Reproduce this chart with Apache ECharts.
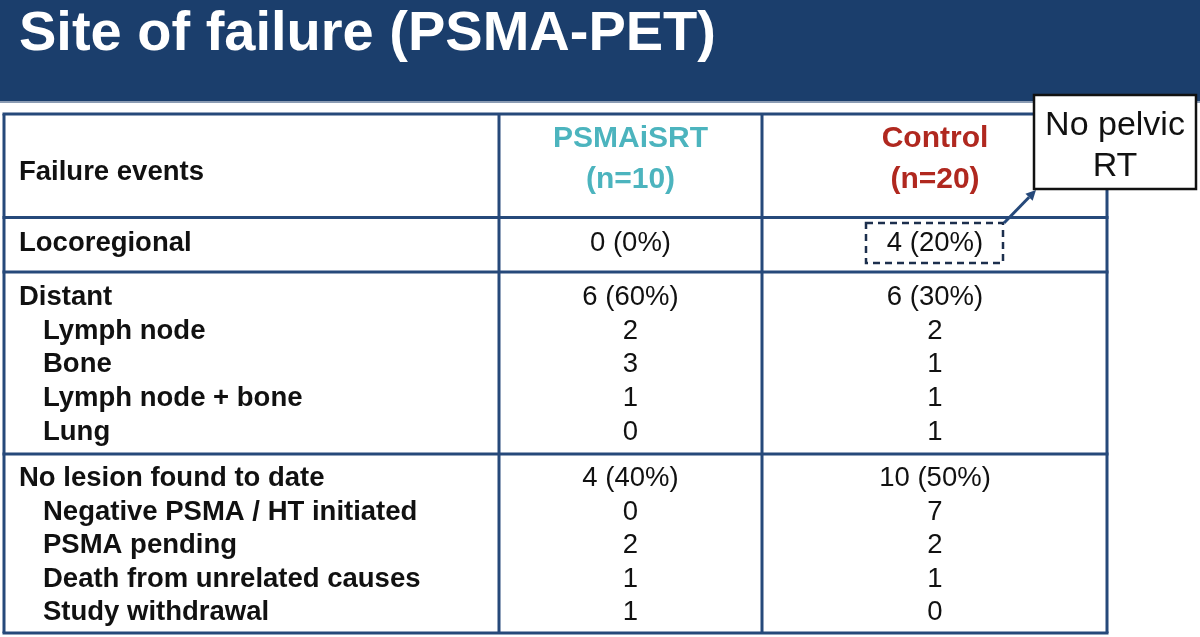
<!DOCTYPE html>
<html>
<head>
<meta charset="utf-8">
<script src="https://cdn.jsdelivr.net/npm/echarts@6/dist/echarts.min.js"></script>
<style>
  html, body { margin: 0; padding: 0; background: #fff; }
  #chart { width: 1200px; height: 637px; }
</style>
</head>
<body>
<div id="chart"></div>
<script>
// table content
const titleText = 'Site of failure (PSMA-PET)'
const firstColHeader = 'Failure events'
const armNames = ['PSMAiSRT', 'Control']
const armSizes = [10, 20]
const armColors = ['#4cb4be', '#b0281f']
const rowLabels = [
  'Locoregional',
  'Distant',
  'Lymph node',
  'Bone',
  'Lymph node + bone',
  'Lung',
  'No lesion found to date',
  'Negative PSMA / HT initiated',
  'PSMA pending',
  'Death from unrelated causes',
  'Study withdrawal'
]
const rowIndent = [0, 0, 1, 1, 1, 1, 0, 1, 1, 1, 1]
const psmaValues = ['0 (0%)', '6 (60%)', '2', '3', '1', '0', '4 (40%)', '0', '2', '1', '1']
const controlValues = ['4 (20%)', '6 (30%)', '2', '1', '1', '1', '10 (50%)', '7', '2', '1', '0']
const calloutText = 'No pelvic\nRT'

// layout (axis units == pixels)
const rowY = [243, 297, 331, 364.5, 398, 432, 478, 512, 545.5, 579, 612.5]
const colX = [4, 499, 762, 1107]
const hLines = [114, 217.5, 272, 454, 633]
const colCenter = [630.5, 935]
const FONT = '"Liberation Sans", Arial, Helvetica, sans-serif'
const LINE = '#26497a'

const chart = echarts.init(document.getElementById('chart'))

function textEl(api, x, y, text, opts) {
  const p = api.coord([x, y])
  return {
    type: 'text',
    x: p[0],
    y: p[1],
    style: Object.assign({
      text: text,
      fill: '#111',
      fontFamily: FONT,
      fontSize: 27.5,
      align: 'left',
      verticalAlign: 'middle'
    }, opts)
  }
}

function lineEl(api, x1, y1, x2, y2, style) {
  const a = api.coord([x1, y1])
  const b = api.coord([x2, y2])
  return {
    type: 'line',
    shape: { x1: a[0], y1: a[1], x2: b[0], y2: b[1] },
    style: Object.assign({ stroke: LINE, lineWidth: 3 }, style)
  }
}

const option = {
  animation: false,
  backgroundColor: '#fff',
  grid: { left: 0, right: 0, top: 0, bottom: 0 },
  xAxis: { type: 'value', min: 0, max: 1200, show: false },
  yAxis: { type: 'value', min: 0, max: 637, inverse: true, show: false },
  graphic: [
    { type: 'rect', left: 0, top: 0, shape: { width: 1200, height: 101 }, style: { fill: '#1b3e6c' }, z: 0 },
    { type: 'rect', left: 0, top: 101, shape: { width: 1200, height: 2 }, style: { fill: '#8a9bb3' }, z: 0 }
  ],
  title: {
    text: titleText,
    left: 14,
    top: 2,
    textStyle: { color: '#fff', fontFamily: FONT, fontWeight: 'bold', fontSize: 56 }
  },
  series: [
    {
      // grid lines of the table
      type: 'custom',
      coordinateSystem: 'cartesian2d',
      data: [[0]],
      z: 2,
      renderItem: function (params, api) {
        const children = []
        hLines.forEach(function (y) {
          children.push(lineEl(api, colX[0] - 1.5, y, colX[3] + 1.5, y))
        })
        colX.forEach(function (x) {
          children.push(lineEl(api, x, hLines[0], x, hLines[hLines.length - 1]))
        })
        return { type: 'group', children: children }
      }
    },
    {
      // header row
      type: 'custom',
      coordinateSystem: 'cartesian2d',
      data: [[0]],
      z: 3,
      renderItem: function (params, api) {
        const children = [textEl(api, 19, 172, firstColHeader, { fontWeight: 'bold' })]
        armNames.forEach(function (name, i) {
          children.push(textEl(api, colCenter[i], 139, name, { fontWeight: 'bold', fontSize: 30, fill: armColors[i], align: 'center' }))
          children.push(textEl(api, colCenter[i], 180, '(n=' + armSizes[i] + ')', { fontWeight: 'bold', fontSize: 30, fill: armColors[i], align: 'center' }))
        })
        return { type: 'group', children: children }
      }
    },
    {
      // body rows
      type: 'custom',
      coordinateSystem: 'cartesian2d',
      data: rowLabels.map(function (l, i) { return [i] }),
      z: 3,
      renderItem: function (params, api) {
        const i = params.dataIndex
        const y = rowY[i]
        return {
          type: 'group',
          children: [
            textEl(api, rowIndent[i] ? 43 : 19, y, rowLabels[i], { fontWeight: 'bold' }),
            textEl(api, colCenter[0], y, psmaValues[i], { align: 'center' }),
            textEl(api, colCenter[1], y, controlValues[i], { align: 'center' })
          ]
        }
      }
    },
    {
      // annotation: dashed box, arrow and callout
      type: 'custom',
      coordinateSystem: 'cartesian2d',
      data: [[0]],
      z: 5,
      renderItem: function (params, api) {
        const tl = api.coord([866, 223])
        const br = api.coord([1003, 263])
        const ctl = api.coord([1034, 95])
        const cbr = api.coord([1196, 189])
        const arrowEnd = api.coord([1036, 190])
        const arrowStart = api.coord([1004, 223])
        const ang = Math.atan2(arrowEnd[1] - arrowStart[1], arrowEnd[0] - arrowStart[0])
        const hl = 10, hw = 5
        const bx = arrowEnd[0] - hl * Math.cos(ang)
        const by = arrowEnd[1] - hl * Math.sin(ang)
        return {
          type: 'group',
          children: [
            {
              type: 'rect',
              shape: { x: tl[0], y: tl[1], width: br[0] - tl[0], height: br[1] - tl[1] },
              style: { fill: 'none', stroke: '#1c2f4d', lineWidth: 2.5, lineDash: [7, 5] }
            },
            {
              type: 'line',
              shape: { x1: arrowStart[0], y1: arrowStart[1], x2: bx, y2: by },
              style: { stroke: LINE, lineWidth: 3 }
            },
            {
              type: 'polygon',
              shape: {
                points: [
                  arrowEnd,
                  [bx + hw * Math.sin(ang), by - hw * Math.cos(ang)],
                  [bx - hw * Math.sin(ang), by + hw * Math.cos(ang)]
                ]
              },
              style: { fill: LINE }
            },
            {
              type: 'rect',
              shape: { x: ctl[0], y: ctl[1], width: cbr[0] - ctl[0], height: cbr[1] - ctl[1] },
              style: { fill: '#fff', stroke: '#111', lineWidth: 2.5 }
            },
            {
              type: 'text',
              x: (ctl[0] + cbr[0]) / 2,
              y: (ctl[1] + cbr[1]) / 2 + 4,
              style: {
                text: calloutText,
                fill: '#111',
                fontFamily: FONT,
                fontSize: 34,
                lineHeight: 41,
                align: 'center',
                verticalAlign: 'middle'
              }
            }
          ]
        }
      }
    }
  ]
}

chart.setOption(option)
</script>
</body>
</html>
